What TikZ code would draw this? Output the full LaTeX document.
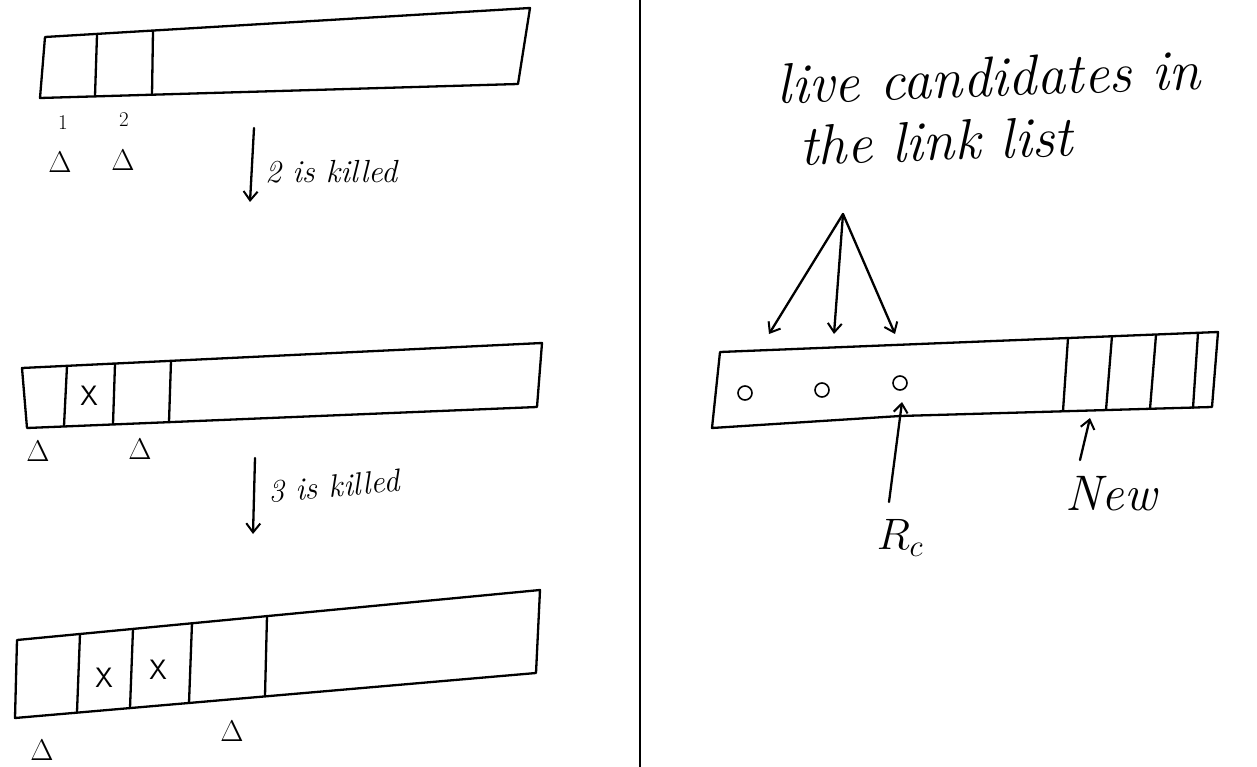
\RequirePackage{fix-cm}
\documentclass[tikz,border=0pt]{standalone}
\usetikzlibrary{arrows.meta}
\begin{document}
\begin{tikzpicture}[x=1pt,y=-1pt,
  line width=2.3pt, line join=round, line cap=round,
  tape/.style={line width=2.3pt},
  tip/.style={-{Straight Barb[length=9pt,width=14pt,line width=2pt]}},
  hand/.style={font=\fontsize{32}{34}\selectfont\itshape, inner sep=0pt},
  bighand/.style={font=\fontsize{57}{62}\selectfont\itshape, inner sep=0pt},
  idx/.style={font=\fontsize{21}{22}\selectfont, inner sep=0pt},
  crossmark/.style={font=\fontsize{28}{30}\selectfont, inner sep=0pt},
  ptr/.style={font=\fontsize{30}{32}\selectfont, inner sep=0pt},
  slot/.style={circle, draw, line width=1.6pt, minimum size=14pt, inner sep=0pt}]
\useasboundingbox (0,0) rectangle (1257,767);

% ---------- left column: three stages of the array ----------
% stage 1
\draw[tape] (45,37) -- (530,8) -- (518,84) -- (40,98) -- cycle;
\draw[tape] (97,35) -- (95,96);
\draw[tape] (153,31) -- (152,95);
\node[idx] (n1) at (63,123) {1};
\node[idx] (n2) at (124,120) {2};
\node[ptr] (a1) at (60,162) {$\Delta$};
\node[ptr] (a2) at (123,160) {$\Delta$};

\coordinate (s1) at (254,128);
\coordinate (e1) at (250,202);
\draw[tip] (s1) -- (e1);
\node[hand, anchor=west] (k1) at (264,172) {2 is killed};

% stage 2
\draw[tape] (22,368) -- (542,343) -- (537,407) -- (27,428) -- cycle;
\draw[tape] (67,366) -- (64,426);
\draw[tape] (115,364) -- (113,424);
\draw[tape] (171,361) -- (169,422);
\node[crossmark] (x1) at (89,396) {\textsf{X}};
\node[ptr] (b1) at (38,451) {$\Delta$};
\node[ptr] (b2) at (140,449) {$\Delta$};

\coordinate (s2) at (255,458);
\coordinate (e2) at (253,534);
\draw[tip] (s2) -- (e2);
\node[hand, anchor=west, rotate=5] (k2) at (267,492) {3 is killed};

% stage 3
\draw[tape] (17,640) -- (540,590) -- (536,673) -- (15,718) -- cycle;
\draw[tape] (80,634) -- (77,712);
\draw[tape] (133,629) -- (130,708);
\draw[tape] (192,623) -- (189,703);
\draw[tape] (267,616) -- (265,696);
\node[crossmark] (x2) at (104,678) {\textsf{X}};
\node[crossmark] (x3) at (158,670) {\textsf{X}};
\node[ptr] (d1) at (42,750) {$\Delta$};
\node[ptr] (d2) at (232,731) {$\Delta$};

% ---------- separator ----------
\draw[tape] (640,0) -- (640,767);

% ---------- right column: link list view ----------
\node[bighand, anchor=base west, rotate=2, align=left] (live) at (779,166)
  {live candidates in\\\hspace*{0.35em}the link list};

\draw[tape] (720,352) -- (1218,332) -- (1212,407) -- (900,416) -- (712,428) -- cycle;
\draw[tape] (1068,338) -- (1063,411);
\draw[tape] (1112,336) -- (1106,410);
\draw[tape] (1156,335) -- (1150,409);
\draw[tape] (1198,333) -- (1193,408);

\node[slot] (c1) at (745,393) {};
\node[slot] (c2) at (822,390) {};
\node[slot] (c3) at (900,383) {};

\coordinate (apex) at (843,214);
\coordinate (t1) at (769,334);
\coordinate (t2) at (834,334);
\coordinate (t3) at (895,334);
\draw[tip] (apex) -- (t1);
\draw[tip] (apex) -- (t2);
\draw[tip] (apex) -- (t3);

\node[font=\fontsize{44}{46}\selectfont, inner sep=0pt] (rc) at (900,538) {$R_c$};
\coordinate (rcfoot) at (889,502);
\coordinate (rctip) at (902,402);
\draw[tip] (rcfoot) -- (rctip);

\node[bighand, font=\fontsize{50}{52}\selectfont\itshape] (new) at (1111,494) {New};
\coordinate (newfoot) at (1080,460);
\coordinate (newtip) at (1090,418);
\draw[tip] (newfoot) -- (newtip);
\end{tikzpicture}
\end{document}
